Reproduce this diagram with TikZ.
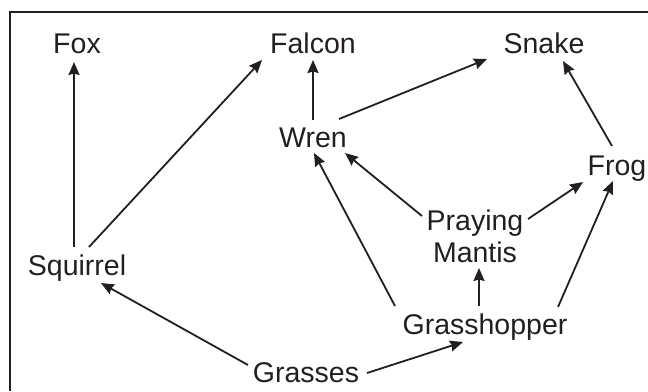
\documentclass[tikz,border=0pt]{standalone}
\usepackage{fontspec}
\setmainfont{Liberation Sans}
\usetikzlibrary{arrows.meta}
\definecolor{ink}{HTML}{231F20}
\begin{document}
\begin{tikzpicture}[x=1bp,y=-1bp,
  lbl/.style={inner sep=0pt,text=ink,font=\fontsize{28.5bp}{32bp}\selectfont,align=center},
  feeds/.style={draw=ink,line width=1.8bp,-{Stealth[length=13bp,width=11bp,inset=1.5bp]}},
  frame/.style={draw=ink,line width=2.4bp}]
\useasboundingbox (0,0) rectangle (648,391);
\draw[frame] (10,391) -- (10,12) -- (648,12);
\node[lbl,anchor=base] (fox) at (77,53) {Fox};
\node[lbl,anchor=base] (falcon) at (313,53) {Falcon};
\node[lbl,anchor=base] (snake) at (544,53) {Snake};
\node[lbl,anchor=base] (wren) at (313,147) {Wren};
\node[lbl,anchor=base] (frog) at (617,175) {Frog};
\node[lbl,anchor=center] (mantis) at (475,236) {Praying\\Mantis};
\node[lbl,anchor=base] (squirrel) at (77,275) {Squirrel};
\node[lbl,anchor=base] (grasshopper) at (485,334) {Grasshopper};
\node[lbl,anchor=base] (grasses) at (306,382) {Grasses};
\draw[feeds] ([shift={(-3,-28)}]squirrel.base) -- ([shift={(-3,9)}]fox.base);
\draw[feeds] ([shift={(12,-28)}]squirrel.base) -- ([shift={(-51,7)}]falcon.base);
\draw[feeds] ([shift={(0,-27)}]wren.base) -- ([shift={(0,7)}]falcon.base);
\draw[feeds] ([shift={(26,-28)}]wren.base) -- ([shift={(-57,6)}]snake.base);
\draw[feeds] ([shift={(-5,-29)}]frog.base) -- ([shift={(19,8)}]snake.base);
\draw[feeds] ([shift={(-53,-20)}]mantis.center) -- ([shift={(32,6)}]wren.base);
\draw[feeds] ([shift={(-90,-28)}]grasshopper.base) -- ([shift={(1,6)}]wren.base);
\draw[feeds] ([shift={(53,-17)}]mantis.center) -- ([shift={(-34,7)}]frog.base);
\draw[feeds] ([shift={(73,-27)}]grasshopper.base) -- ([shift={(-4,6)}]frog.base);
\draw[feeds] ([shift={(-6,-28)}]grasshopper.base) -- ([shift={(4,32)}]mantis.center);
\draw[feeds] ([shift={(61,-9)}]grasses.base) -- ([shift={(-22,8)}]grasshopper.base);
\draw[feeds] ([shift={(-58,-17)}]grasses.base) -- ([shift={(24,8)}]squirrel.base);
\end{tikzpicture}
\end{document}
